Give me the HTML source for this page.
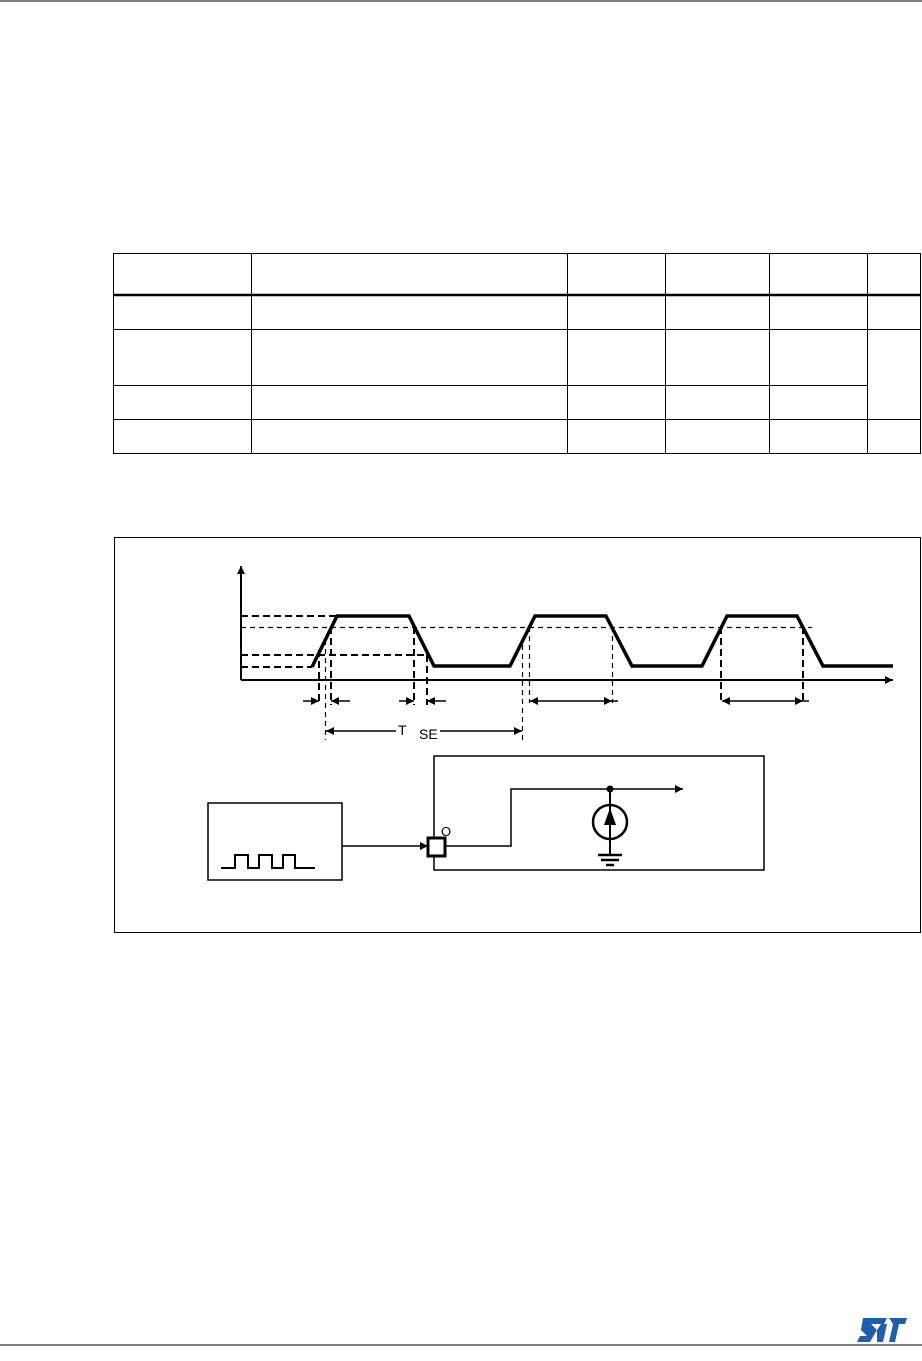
<!DOCTYPE html>
<html><head><meta charset="utf-8"><style>
html,body{margin:0;padding:0;background:#fff}
svg{display:block}
text{font-family:"Liberation Sans",sans-serif}
</style></head><body>
<svg width="922" height="1361" viewBox="0 0 922 1361" xmlns="http://www.w3.org/2000/svg">
<defs>
<marker id="a" viewBox="0 0 10 10" refX="10" refY="5" markerWidth="11" markerHeight="8" markerUnits="userSpaceOnUse" orient="auto"><path d="M0,0L10,5L0,10z" fill="#000"/></marker>
</defs>
<line x1="0" y1="1" x2="922" y2="1" stroke="#000" stroke-width="1"/>
<line x1="0" y1="1345" x2="922" y2="1345" stroke="#000" stroke-width="1"/>
<g stroke="#000" stroke-width="1" fill="none">
<rect x="113.5" y="253.5" width="807" height="200"/>
<line x1="113" y1="295" x2="921" y2="295" stroke-width="2.5"/>
<line x1="113" y1="329.5" x2="921" y2="329.5"/>
<line x1="113" y1="385.5" x2="867" y2="385.5"/>
<line x1="113" y1="419.5" x2="921" y2="419.5"/>
<line x1="251.5" y1="253" x2="251.5" y2="453"/>
<line x1="567.5" y1="253" x2="567.5" y2="453"/>
<line x1="665.5" y1="253" x2="665.5" y2="453"/>
<line x1="769.5" y1="253" x2="769.5" y2="453"/>
<line x1="867.5" y1="253" x2="867.5" y2="453"/>
</g>
<rect x="114.5" y="537.5" width="806" height="395" fill="none" stroke="#000"/>
<g stroke="#000" fill="none">
<line x1="241" y1="680" x2="241" y2="566" stroke-width="2" marker-end="url(#a)"/>
<line x1="241" y1="680" x2="893" y2="680" stroke-width="2" marker-end="url(#a)"/>
<polyline points="312,667 337,616 409,616 434,666 510,666 535,616 606,616 632,666 702,666 727,616 797,616 823,666 893,666" stroke-width="3.5"/>
<g stroke-width="2" stroke-dasharray="7,4">
<line x1="241" y1="616" x2="337" y2="616"/>
<line x1="241" y1="655" x2="430" y2="655"/>
<line x1="241" y1="667" x2="312" y2="667"/>
<line x1="319" y1="650" x2="319" y2="705"/>
<line x1="331" y1="627" x2="331" y2="705"/>
<line x1="414" y1="627" x2="414" y2="705"/>
<line x1="427" y1="655" x2="427" y2="705"/>
<line x1="721" y1="627" x2="721" y2="703"/>
<line x1="803" y1="627" x2="803" y2="703"/>
</g>
<g stroke-width="1.2" stroke-dasharray="5,4">
<line x1="241" y1="627.5" x2="812" y2="627.5"/>
<line x1="325.5" y1="640" x2="325.5" y2="740"/>
<line x1="522.5" y1="645" x2="522.5" y2="740"/>
<line x1="529.5" y1="627" x2="529.5" y2="703"/>
<line x1="612.5" y1="627" x2="612.5" y2="703"/>
</g>
<g stroke-width="1.5">
<line x1="303" y1="701" x2="319" y2="701" marker-end="url(#a)"/>
<line x1="350" y1="701" x2="331" y2="701" marker-end="url(#a)"/>
<line x1="399" y1="701" x2="414" y2="701" marker-end="url(#a)"/>
<line x1="446" y1="701" x2="427" y2="701" marker-end="url(#a)"/>
<line x1="570" y1="701" x2="530" y2="701" marker-end="url(#a)"/>
<line x1="570" y1="701" x2="612" y2="701" marker-end="url(#a)"/>
<line x1="612" y1="701" x2="618" y2="701"/>
<line x1="760" y1="701" x2="722" y2="701" marker-end="url(#a)"/>
<line x1="760" y1="701" x2="803" y2="701" marker-end="url(#a)"/>
<line x1="803" y1="701" x2="809" y2="701"/>
<line x1="396" y1="731" x2="326" y2="731" marker-end="url(#a)"/>
<line x1="440" y1="731" x2="522" y2="731" marker-end="url(#a)"/>
</g>
</g>
<text x="398" y="735" font-size="14">T</text>
<text x="419" y="739" font-size="14">SE</text>
<g stroke="#000" fill="none" stroke-width="1.5">
<rect x="434" y="756" width="330" height="114"/>
<rect x="208" y="803" width="134" height="77"/>
<polyline points="221,868 235,868 235,855 248,855 248,868 259,868 259,855 272,855 272,868 283,868 283,855 295,855 295,868 315,868" stroke-width="2"/>
<line x1="342" y1="846" x2="428" y2="846" marker-end="url(#a)"/>
<rect x="428" y="838" width="17" height="18" stroke-width="3" fill="#fff"/>
<polyline points="445,846 511,846 511,789 683,789" marker-end="url(#a)"/>
<circle cx="610" cy="822" r="17" stroke-width="2.5"/>
<line x1="610" y1="789" x2="610" y2="855" stroke-width="2"/>
<line x1="598" y1="855" x2="622" y2="855" stroke-width="2.5"/>
<line x1="601" y1="860" x2="619" y2="860" stroke-width="2.5"/>
<line x1="606" y1="865" x2="614" y2="865" stroke-width="2.5"/>
</g>
<circle cx="610" cy="789" r="3.5" fill="#000"/>
<path d="M610,808 L604,825 L616,825 Z" fill="#000"/>
<text x="441" y="836" font-size="13">O</text>
<g transform="translate(857,1318)" fill="#1f5ea8">
<path d="M6,0 L30,0 L27,6 L14,6 L20,12 L13,24 L0,24 L3,18 L10,18 L4,12 Z"/>
<path d="M20,12 L24,6 L30,6 L26,24 L20,24 Z"/>
<path d="M28,0 L46,0 L44,6 L38,6 L34,24 L28,24 L32,6 Z" transform="translate(4,0)"/>
</g>
</svg>
</body></html>
